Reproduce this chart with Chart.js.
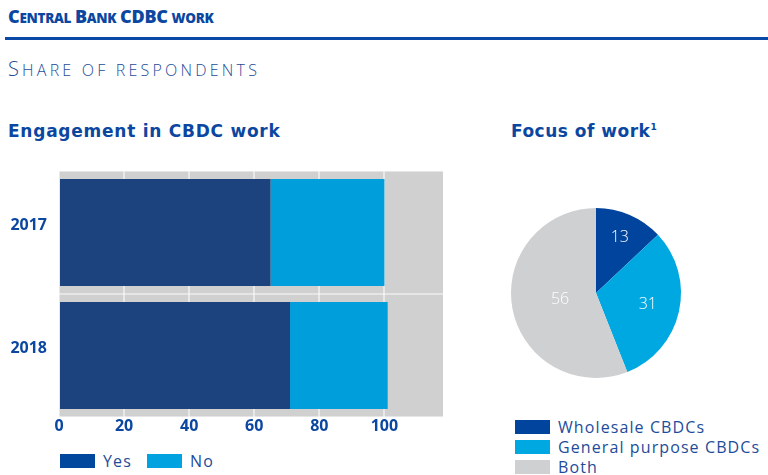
<!DOCTYPE html>
<html>
<head>
<meta charset="utf-8">
<script src="https://cdn.jsdelivr.net/npm/chart.js@4"></script>
<style>
  body { margin: 0; background: #fff; font-family: "Open Sans", sans-serif; color: #0b47a0; }
  #wrap { position: relative; width: 768px; height: 475px; overflow: hidden; }
  .abs { position: absolute; white-space: nowrap; line-height: 1; }
  #title { left: 8px; top: 7px; font-weight: 800; color: #0b47a0; letter-spacing: -0.3px; }
  #rule { left: 5px; top: 37px; width: 763px; height: 3px; background: #0a4aa6; }
  #sub { left: 8px; top: 59px; font-weight: 300; color: #1e4c9a; letter-spacing: 3.2px; }
  .head { font-family: "DejaVu Sans", sans-serif; font-size: 17px; font-weight: 700; color: #0b47a0; top: 123px; letter-spacing: 0.75px; }
  .leg { font-size: 16px; font-weight: 400; color: #1e4c9a; display: flex; align-items: center; letter-spacing: 1.1px; line-height: 20px; }
  .sw { display: inline-block; width: 35px; height: 14px; margin-right: 8px; }
</style>
</head>
<body>
<div id="wrap">
  <div id="title" class="abs" data-text="Central Bank CDBC work" data-big="18" data-small="13.5"></div>
  <div id="rule" class="abs"></div>
  <div id="sub" class="abs" data-text="Share of respondents" data-big="20" data-small="16"></div>
  <div class="abs head" style="left:8px">Engagement in CBDC work</div>
  <div class="abs head" style="left:511px;letter-spacing:0.5px">Focus of work<sup style="font-size:9px">1</sup></div>
  <div class="abs" style="left:0;top:160px;width:460px;height:280px"><canvas id="bars"></canvas></div>
  <div class="abs" style="left:501px;top:198px;width:190px;height:190px"><canvas id="pie"></canvas></div>
</div>
<script>
// bar chart data
const years = ['2017', '2018'];
const yesValues = [65, 71];
const noValues = [35, 30];
const barSeries = ['Yes', 'No'];
const barColors = ['#1c437e', '#009edb'];
const barLegendColors = ['#00479d', '#00a3df'];

// pie chart data
const focusLabels = ['Wholesale CBDCs', 'General purpose CBDCs', 'Both'];
const focusValues = [13, 31, 56];
const focusColors = ['#00449e', '#00a8e1', '#cfd0d2'];

const blue = '#0b47a0';

// fake small caps: capitals big, the rest uppercased smaller
document.querySelectorAll('[data-text]').forEach(el => {
  const big = el.dataset.big, small = el.dataset.small;
  el.innerHTML = el.dataset.text.split('').map(ch => {
    if (ch === ' ') return ' ';
    const isCap = ch === ch.toUpperCase();
    return '<span style="font-size:' + (isCap ? big : small) + 'px">' + ch.toUpperCase() + '</span>';
  }).join('');
});

// grey plot background
const plotBg = {
  id: 'plotBg',
  beforeDraw(chart) {
    const a = chart.chartArea, c = chart.ctx;
    c.save();
    c.fillStyle = '#d0d0d0';
    c.fillRect(a.left, a.top, a.right - a.left, a.bottom - a.top);
    c.restore();
  }
};

new Chart(document.getElementById('bars'), {
  type: 'bar',
  data: {
    labels: years,
    datasets: [
      { label: barSeries[0], data: yesValues, backgroundColor: barColors[0] },
      { label: barSeries[1], data: noValues, backgroundColor: barColors[1] }
    ]
  },
  options: {
    indexAxis: 'y',
    responsive: true,
    maintainAspectRatio: false,
    animation: false,
    layout: { padding: { top: 11, right: 17, left: 0, bottom: 0 } },
    plugins: { legend: { display: false }, tooltip: { enabled: false } },
    datasets: { bar: { categoryPercentage: 1, barPercentage: 0.87 } },
    scales: {
      x: {
        stacked: true, min: 0, max: 118,
        border: { display: false },
        grid: { color: 'rgba(255,255,255,0.5)', lineWidth: 2, drawTicks: false },
        ticks: { stepSize: 20, padding: 0, color: blue, font: { family: 'Open Sans', size: 16, weight: 'bold' } },
        afterBuildTicks(s) { s.ticks = s.ticks.filter(t => t.value % 20 === 0); },
        afterFit(s) { s.height = 23; }
      },
      y: {
        stacked: true,
        border: { display: false },
        grid: { color: 'rgba(255,255,255,0.45)', lineWidth: 2, offset: true, drawTicks: false },
        ticks: { padding: 12, labelOffset: -7, color: blue, font: { family: 'Open Sans', size: 16, weight: 'bold' } },
        afterFit(s) { s.width = 59; s.paddingTop = 0; s.paddingBottom = 0; }
      }
    }
  },
  plugins: [plotBg]
});

// value labels inside the slices, placed near the sector centroid
const sliceLabels = {
  id: 'sliceLabels',
  afterDatasetsDraw(chart) {
    const c = chart.ctx;
    const meta = chart.getDatasetMeta(0);
    c.save();
    c.fillStyle = '#fff';
    c.font = '300 16px "Open Sans"';
    c.textAlign = 'center';
    c.textBaseline = 'middle';
    meta.data.forEach((arc, i) => {
      const half = (arc.endAngle - arc.startAngle) / 2;
      const mid = arc.startAngle + half;
      const d = 2 * arc.outerRadius * Math.sin(half) / (3 * half) + 5;
      c.fillText(chart.data.datasets[0].data[i], arc.x + d * Math.cos(mid), arc.y + d * Math.sin(mid));
    });
    c.restore();
  }
};

new Chart(document.getElementById('pie'), {
  type: 'pie',
  data: {
    labels: focusLabels,
    datasets: [{ data: focusValues, backgroundColor: focusColors, borderWidth: 0 }]
  },
  options: {
    responsive: true,
    maintainAspectRatio: false,
    animation: false,
    radius: 85,
    plugins: { legend: { display: false }, tooltip: { enabled: false } }
  },
  plugins: [sliceLabels]
});

// html legends from the same arrays
function legendItem(label, color, left, top) {
  const d = document.createElement('div');
  d.className = 'abs leg';
  d.style.left = left + 'px';
  d.style.top = top + 'px';
  d.innerHTML = '<span class="sw" style="background:' + color + '"></span>' + label;
  document.getElementById('wrap').appendChild(d);
}
const barLegendX = [60, 147];
barSeries.forEach((s, i) => legendItem(s, barLegendColors[i], barLegendX[i], 451));
focusLabels.forEach((s, i) => legendItem(s, focusColors[i], 515, 417 + i * 20));
</script>
</body>
</html>
